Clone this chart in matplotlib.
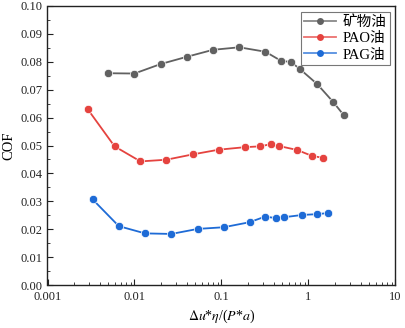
import matplotlib
matplotlib.use("Agg")
import matplotlib.pyplot as plt
from matplotlib.lines import Line2D
from matplotlib.colors import to_rgba
from matplotlib.ticker import FixedLocator, MultipleLocator, LogLocator, NullFormatter

plt.rcParams['font.family'] = ['Liberation Serif', 'Noto Sans CJK SC']
plt.rcParams['mathtext.fontset'] = 'stix'

mineral_x = [0.005, 0.01, 0.02, 0.04, 0.08, 0.16, 0.32, 0.48, 0.63, 0.79, 1.26, 1.91, 2.54]
mineral_y = [0.0759, 0.0758, 0.0792, 0.0818, 0.0843, 0.0852, 0.0836, 0.0804, 0.0799, 0.0775, 0.0720, 0.0657, 0.0609]

pao_x = [0.0029, 0.0059, 0.0117, 0.0232, 0.0465, 0.093, 0.186, 0.279, 0.37, 0.46, 0.74, 1.11, 1.48]
pao_y = [0.0630, 0.0497, 0.0443, 0.0449, 0.0468, 0.0485, 0.0494, 0.0497, 0.0505, 0.0498, 0.0484, 0.0462, 0.0456]

pag_x = [0.0033, 0.0066, 0.0132, 0.0265, 0.0533, 0.106, 0.21, 0.316, 0.42, 0.525, 0.845, 1.26, 1.69]
pag_y = [0.0307, 0.0211, 0.0185, 0.0183, 0.0201, 0.0207, 0.0225, 0.0245, 0.0240, 0.0243, 0.0251, 0.0254, 0.0258]

labels = ['矿物油', 'PAO油', 'PAG油']
colors = ['#616161', '#e5433f', '#1e6bd6']

y_ticks = [0.00, 0.01, 0.02, 0.03, 0.04, 0.05, 0.06, 0.07, 0.08, 0.09, 0.10]
y_ticklabels = ['0.00', '0.01', '0.02', '0.03', '0.04', '0.05', '0.06', '0.07', '0.08', '0.09', '0.10']
x_ticks = [0.001, 0.01, 0.1, 1, 10]
x_ticklabels = ['0.001', '0.01', '0.1', '1', '10']

fig = plt.figure(figsize=(4.06, 3.28), dpi=100)
ax = fig.add_axes([47.5/406, 1 - 285/328, (395.5 - 47.5)/406, (285 - 6)/328])

for xs, ys, lab, c in zip([mineral_x, pao_x, pag_x], [mineral_y, pao_y, pag_y], labels, colors):
    ax.plot(xs, ys, '-o', color=c, lw=1.3, markersize=6, markeredgecolor='white',
            markeredgewidth=0.5, label=lab)

ax.set_xscale('log')
ax.set_xlim(0.001, 10)
ax.set_ylim(0, 0.10)
ax.xaxis.set_major_locator(FixedLocator(x_ticks))
ax.set_xticklabels(x_ticklabels)
ax.xaxis.set_minor_locator(LogLocator(base=10, subs=range(2, 10), numticks=20))
ax.xaxis.set_minor_formatter(NullFormatter())
ax.yaxis.set_major_locator(FixedLocator(y_ticks))
ax.set_yticklabels(y_ticklabels)
ax.yaxis.set_minor_locator(MultipleLocator(0.005))

ax.tick_params(which='both', direction='in', top=False, right=False, labelsize=9, colors='#222222')
ax.tick_params(axis='x', which='major', pad=4)
ax.tick_params(which='major', length=4, width=0.8)
ax.tick_params(which='minor', length=2, width=0.6)
for s in ax.spines.values():
    s.set_linewidth(1.0)
    s.set_color('#222222')

ax.set_xlabel(r'$\Delta u$*$\eta$/($P$*$a$)', fontsize=10, labelpad=4)
ax.set_ylabel('COF', fontsize=10.5, labelpad=4)

handles = [Line2D([], [], color=to_rgba(c, 0.75), lw=1.3, marker='o', markersize=5,
                  markerfacecolor=c, markeredgecolor=c, markeredgewidth=0)
           for c in colors]
leg = ax.legend(handles, labels, loc='upper right', fontsize=10.5, frameon=True, fancybox=False,
                edgecolor='#555555', handlelength=2.2, borderpad=0.25, labelspacing=0.2,
                handletextpad=0.4, borderaxespad=0.4)
leg.get_frame().set_linewidth(0.8)

fig.savefig('out.png', dpi=100)
